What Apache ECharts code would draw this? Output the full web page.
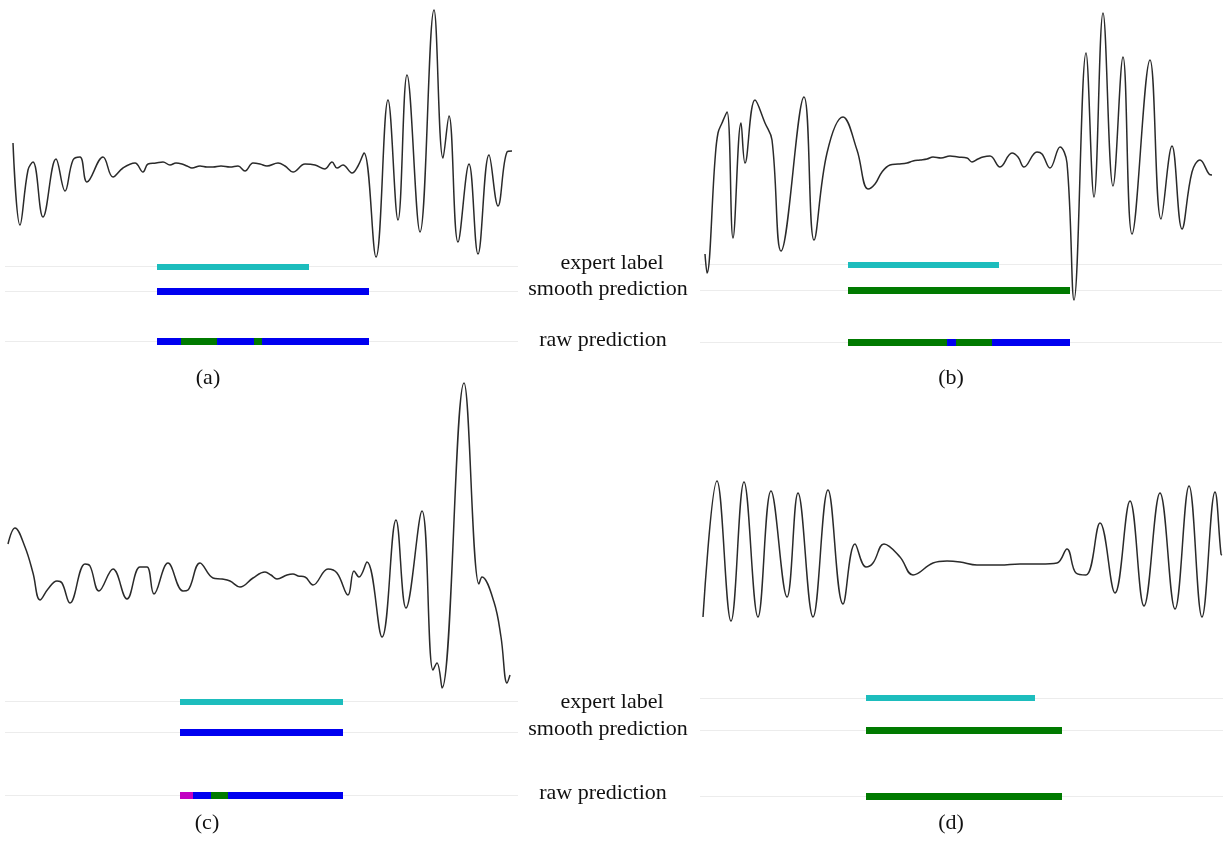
<!DOCTYPE html>
<html>
<head>
<meta charset="utf-8">
<script src="https://cdn.jsdelivr.net/npm/echarts@6/dist/echarts.min.js"></script>
<style>
  html, body { margin: 0; padding: 0; background: #ffffff; }
  #chart { width: 1225px; height: 842px; }
</style>
</head>
<body>
<div id="chart"></div>
<script>
// ---- Signal traces: [sample, amplitude] ----
const waveA = [
  [0, 22], [7, -60], [15, -5], [20, 3], [30, -52], [43, 6], [52, -26], [60, 5], [67, 8],
  [74, -17], [90, 8], [100, -12], [110, -3], [122, 2], [130, -7], [135, 1], [143, 2],
  [150, 3], [157, 0], [163, 2], [169, 1], [174, -1], [179, -3], [187, -1], [194, -2],
  [200, -2], [208, -1], [217, -2], [225, -1], [232, -6], [240, 2], [247, 1], [254, -1],
  [265, 2], [272, -1], [280, -7], [292, 1], [302, 0], [312, -4], [319, 3], [324, -3],
  [330, 0], [339, -8], [345, -1], [351, 12], [363, -92], [375, 65], [385, -55], [394, 90],
  [407, -67], [421, 155], [430, 7], [436, 49], [445, -77], [456, 1], [465, -89], [476, 10],
  [485, -41], [494, 13], [499, 14]
];
const waveB = [
  [0, -94], [2, -113], [10, 0], [13, 27], [17, 37], [22, 48], [28, -78], [36, 37], [40, -3],
  [50, 60], [60, 37], [67, 20], [76, -91], [99, 63], [109, -80], [122, 7], [138, 43],
  [152, 10], [163, -29], [170, -24], [177, -12], [185, -5], [193, -4], [202, -3], [208, -1],
  [215, 0], [222, 1], [228, 3], [236, 2], [245, 4], [253, 3], [262, 2], [267, -2],
  [273, 1], [278, 3], [285, 4], [295, -7], [307, 7], [313, 3], [319, -7], [332, 8],
  [337, 6], [345, -8], [355, 13], [362, -3], [369, -140], [381, 107], [389, -37],
  [398, 147], [408, -26], [418, 103], [427, -74], [445, 100], [456, -59], [467, 14],
  [477, -69], [487, -12], [495, 0], [504, -14], [507, -15]
];
const waveC = [
  [0, 31], [7, 47], [17, 28], [25, 2], [32, -25], [40, -14], [49, -6], [54, -8], [62, -28],
  [77, 11], [82, 9], [91, -16], [105, 6], [119, -24], [132, 8], [139, 8], [146, -19],
  [160, 12], [175, -16], [180, -15], [192, 12], [205, -3], [214, -4], [222, -6], [232, -12],
  [245, -3], [257, 3], [263, 0], [269, -4], [279, 0], [285, 1], [290, -1], [297, -2],
  [305, -10], [320, 6], [329, 2], [340, -20], [346, 4], [351, -2], [359, 13], [374, -62],
  [388, 55], [398, -33], [414, 64], [425, -95], [429, -88], [434, -113], [456, 192],
  [471, -9], [474, -2], [486, -27], [493, -62], [499, -108], [502, -100]
];
const waveD = [
  [0, -53], [14, 83], [28, -57], [41, 82], [55, -53], [68, 73], [84, -33], [95, 71],
  [110, -53], [125, 74], [140, -40], [152, 20], [163, -3], [170, 1], [181, 20], [197, 7],
  [210, -11], [230, 1], [244, 3], [257, 2], [274, -1], [297, -1], [317, 0], [337, 0],
  [354, 1], [364, 15], [373, -9], [383, -11], [397, 41], [412, -29], [427, 63], [441, -42],
  [457, 71], [472, -45], [486, 78], [499, -53], [512, 72], [518, 10], [519, 9]
];

// ---- Annotation segments: [startSample, endSample, class] ----
// class 'label' = expert annotation; 0, 1, 2 = predicted classes
const expertA = [[144, 296, 'label']];
const smoothA = [[144, 356, 0]];
const rawA = [[144, 168, 0], [168, 204, 1], [204, 241, 0], [241, 249, 1], [249, 356, 0]];

const expertB = [[143, 294, 'label']];
const smoothB = [[143, 365, 1]];
const rawB = [[143, 242, 1], [242, 251, 0], [251, 287, 1], [287, 365, 0]];

const expertC = [[172, 335, 'label']];
const smoothC = [[172, 335, 0]];
const rawC = [[172, 185, 2], [185, 203, 0], [203, 220, 1], [220, 335, 0]];

const expertD = [[163, 332, 'label']];
const smoothD = [[163, 359, 1]];
const rawD = [[163, 359, 1]];

const rowNames = ['expert label', 'smooth prediction', 'raw prediction'];
const captions = ['(a)', '(b)', '(c)', '(d)'];

// ---- Styling and layout ----
const classColor = { label: '#1dbdbd', 0: '#0000f0', 1: '#007a00', 2: '#c200c2' };
const rowLevel = { expert: 2, smooth: 1, raw: -1 };
const serif = '"Liberation Serif", "Times New Roman", serif';

const layout = [
  { wave: { left: 13, top: 0, width: 500, height: 270, x: [0, 500], y: [-105, 165] },
    track: { left: 5, top: 266.5, width: 513, height: 75, x: [-8, 505] },
    caption: [208, 378] },
  { wave: { left: 705, top: 0, width: 510, height: 310, x: [0, 510], y: [-150, 160] },
    track: { left: 700, top: 264.5, width: 522, height: 77.5, x: [-5, 517] },
    caption: [951, 378] },
  { wave: { left: 8, top: 375, width: 505, height: 325, x: [0, 505], y: [-125, 200] },
    track: { left: 5, top: 701.5, width: 513, height: 93.5, x: [-3, 510] },
    caption: [207, 823] },
  { wave: { left: 703, top: 470, width: 520, height: 160, x: [0, 520], y: [-66, 94] },
    track: { left: 700, top: 698, width: 523, height: 98, x: [-3, 520] },
    caption: [951, 823] }
];
const labelRows = [
  { y: [263, 289, 340] },
  { y: [702, 729, 793] }
];

const panels = [
  { wave: waveA, expert: expertA, smooth: smoothA, raw: rawA },
  { wave: waveB, expert: expertB, smooth: smoothB, raw: rawB },
  { wave: waveC, expert: expertC, smooth: smoothC, raw: rawC },
  { wave: waveD, expert: expertD, smooth: smoothD, raw: rawD }
];

const grid = [], xAxis = [], yAxis = [], series = [], graphic = [];

panels.forEach((p, i) => {
  const L = layout[i];
  const wi = grid.length;
  grid.push({ left: L.wave.left, top: L.wave.top, width: L.wave.width, height: L.wave.height });
  xAxis.push({ type: 'value', gridIndex: wi, min: L.wave.x[0], max: L.wave.x[1], show: false });
  yAxis.push({ type: 'value', gridIndex: wi, min: L.wave.y[0], max: L.wave.y[1], show: false });

  const ti = grid.length;
  grid.push({ left: L.track.left, top: L.track.top, width: L.track.width, height: L.track.height });
  xAxis.push({ type: 'value', gridIndex: ti, min: L.track.x[0], max: L.track.x[1], show: false });
  yAxis.push({ type: 'value', gridIndex: ti, min: -1, max: 2, show: false });

  // faint track guide lines spanning the full axis range
  series.push({
    type: 'lines', coordinateSystem: 'cartesian2d', xAxisIndex: ti, yAxisIndex: ti,
    clip: false, silent: true, z: 1,
    lineStyle: { color: '#ececec', width: 1, opacity: 1 },
    data: Object.values(rowLevel).map(r => ({ coords: [[L.track.x[0], r], [L.track.x[1], r]] }))
  });

  // coloured annotation segments
  const segs = [];
  const addRow = (list, level, w) => list.forEach(([s, e, c]) => segs.push({
    coords: [[s, level], [e, level]],
    lineStyle: { color: classColor[c], width: w, opacity: 1, cap: 'butt' }
  }));
  addRow(p.expert, rowLevel.expert, 6);
  addRow(p.smooth, rowLevel.smooth, 7);
  addRow(p.raw, rowLevel.raw, 7);
  series.push({
    type: 'lines', coordinateSystem: 'cartesian2d', xAxisIndex: ti, yAxisIndex: ti,
    clip: false, silent: true, z: 2, data: segs
  });

  // signal trace
  series.push({
    type: 'line', xAxisIndex: wi, yAxisIndex: wi, data: p.wave,
    showSymbol: false, smooth: 0.4, clip: false, silent: true, z: 3,
    lineStyle: { color: '#2a2a2a', width: 1.5 }
  });

  graphic.push({
    type: 'text', x: L.caption[0], y: L.caption[1], silent: true,
    style: { text: captions[i], font: '22px ' + serif, fill: '#111',
             align: 'center', verticalAlign: 'middle', textAlign: 'center', textVerticalAlign: 'middle' }
  });
});

const labelX = [612, 608, 603];
labelRows.forEach(row => {
  rowNames.forEach((name, k) => {
    graphic.push({
      type: 'text', x: labelX[k], y: row.y[k], silent: true,
      style: { text: name, font: '22px ' + serif, fill: '#111',
               align: 'center', verticalAlign: 'middle', textAlign: 'center', textVerticalAlign: 'middle' }
    });
  });
});

const chart = echarts.init(document.getElementById('chart'), null, { renderer: 'canvas' });
chart.setOption({
  backgroundColor: '#ffffff',
  animation: false,
  grid, xAxis, yAxis, series, graphic
});
</script>
</body>
</html>
